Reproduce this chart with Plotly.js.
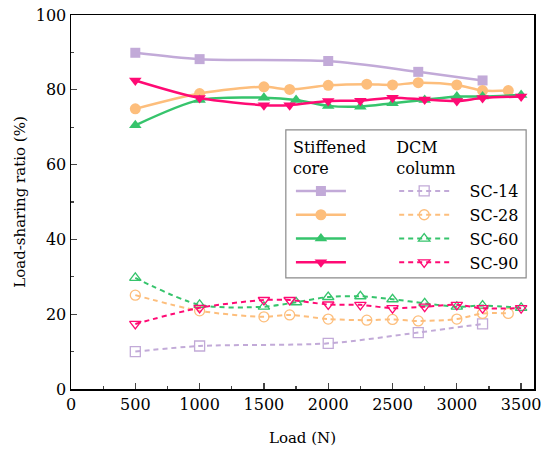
<!DOCTYPE html>
<html><head><meta charset="utf-8">
<script src="https://cdn.plot.ly/plotly-3.0.1.min.js"></script>
<style>html,body{margin:0;padding:0;background:#fff}#chart{width:550px;height:460px}</style>
</head><body><div id="chart"></div>
<script>
// ---- data ----
var seriesNames = ["SC-14", "SC-28", "SC-60", "SC-90"];
var colors = ["#c2aad8", "#fdbe7c", "#36c46c", "#ff0a74"];
var load14 = [500, 1000, 2000, 2700, 3200];
var load28 = [500, 1000, 1500, 1700, 2000, 2300, 2500, 2700, 3000, 3200, 3400];
var load60 = [500, 1000, 1500, 1750, 2000, 2250, 2500, 2750, 3000, 3200, 3500];
var load90 = [500, 1000, 1500, 1700, 2000, 2250, 2500, 2750, 3000, 3200, 3500];
var core14 = [89.9, 88.2, 87.7, 84.8, 82.5];
var core28 = [74.9, 79.0, 80.8, 80.1, 81.2, 81.5, 81.3, 81.9, 81.3, 79.8, 79.8];
var core60 = [70.5, 77.3, 77.9, 77.3, 75.7, 75.5, 76.4, 77.3, 78.2, 78.2, 78.6];
var core90 = [82.5, 77.8, 75.9, 75.9, 77.0, 77.1, 77.9, 77.4, 77.0, 77.8, 78.2];
var dcm14 = [10.0, 11.5, 12.2, 15.1, 17.4];
var dcm28 = [25.1, 20.9, 19.3, 19.8, 18.7, 18.4, 18.6, 18.2, 18.7, 20.2, 20.2];
var dcm60 = [29.7, 22.5, 22.0, 23.2, 24.6, 24.8, 24.0, 22.9, 22.0, 22.3, 21.7];
var dcm90 = [17.4, 21.7, 23.8, 23.8, 22.6, 22.5, 21.6, 22.0, 22.5, 21.6, 21.6];
var xTickVals = [0, 500, 1000, 1500, 2000, 2500, 3000, 3500];
var yTickVals = [0, 20, 40, 60, 80, 100];

var loads = [load14, load28, load60, load90];
var cores = [core14, core28, core60, core90];
var dcms = [dcm14, dcm28, dcm60, dcm90];
var coreSymbols = ["square", "circle", "triangle-up", "triangle-down"];
var dcmSymbols = ["square-open", "circle-open", "triangle-up-open", "triangle-down-open"];
var coreSizes = [10, 11, 11, 11];
var pad = "\u00a0\u00a0\u00a0";

var traces = [];
for (var i = 0; i < 4; i++) {
  traces.push({
    x: loads[i], y: cores[i], type: "scatter", mode: "lines+markers",
    name: " ", legend: "legend",
    line: {color: colors[i], width: 2.5, shape: "spline", smoothing: 0.8},
    marker: {symbol: coreSymbols[i], size: coreSizes[i], color: colors[i]}
  });
}
for (var j = 0; j < 4; j++) {
  traces.push({
    x: loads[j], y: dcms[j], type: "scatter", mode: "lines+markers",
    name: pad + seriesNames[j], legend: "legend2",
    line: {color: colors[j], width: 2, dash: "5px,4px", shape: "spline", smoothing: 0.8},
    marker: {symbol: dcmSymbols[j], size: 10, color: colors[j], line: {width: 1.3, color: colors[j]}}
  });
}

var font = {family: "DejaVu Serif", size: 16, color: "#000"};
var titleFont = {family: "DejaVu Serif", size: 15, color: "#000"};
var layout = {
  width: 550, height: 460,
  margin: {l: 71, r: 16, t: 15, b: 71},
  paper_bgcolor: "#fff", plot_bgcolor: "#fff",
  font: font,
  showlegend: true,
  xaxis: {
    range: [0, 3600], tickvals: xTickVals, ticks: "inside", ticklen: 6, tickwidth: 1.3,
    showline: true, linecolor: "#000", linewidth: 1.5, mirror: true, showgrid: false, zeroline: false,
    minor: {dtick: 250, ticks: "inside", ticklen: 3, tickwidth: 1.2, showgrid: false},
    title: {text: "Load (N)", font: titleFont, standoff: 20},
    tickfont: font
  },
  yaxis: {
    range: [0, 100], tickvals: yTickVals, ticks: "inside", ticklen: 6, tickwidth: 1.3,
    showline: true, linecolor: "#000", linewidth: 1.5, mirror: true, showgrid: false, zeroline: false,
    minor: {dtick: 10, ticks: "inside", ticklen: 3, tickwidth: 1.2, showgrid: false},
    title: {text: "Load-sharing ratio (%)", font: titleFont, standoff: 6},
    tickfont: font
  },
  legend: {
    x: 0.475, y: 0.686, xanchor: "left", yanchor: "top",
    bgcolor: "rgba(0,0,0,0)", borderwidth: 0,
    title: {text: "Stiffened<br>core", font: font},
    font: font, itemwidth: 50, tracegroupgap: 0, itemclick: false
  },
  legend2: {
    x: 0.698, y: 0.686, xanchor: "left", yanchor: "top",
    bgcolor: "rgba(0,0,0,0)", borderwidth: 0,
    title: {text: "DCM<br>column", font: font},
    font: font, itemwidth: 50, tracegroupgap: 0, itemclick: false
  },
  shapes: [{
    type: "rect", xref: "paper", yref: "paper",
    x0: 0.464, x1: 0.983, y0: 0.297, y1: 0.693,
    line: {color: "#8a8a8a", width: 1.2}, fillcolor: "#fff", layer: "above"
  }]
};
Plotly.newPlot("chart", traces, layout, {displayModeBar: false, staticPlot: true});
</script></body></html>
